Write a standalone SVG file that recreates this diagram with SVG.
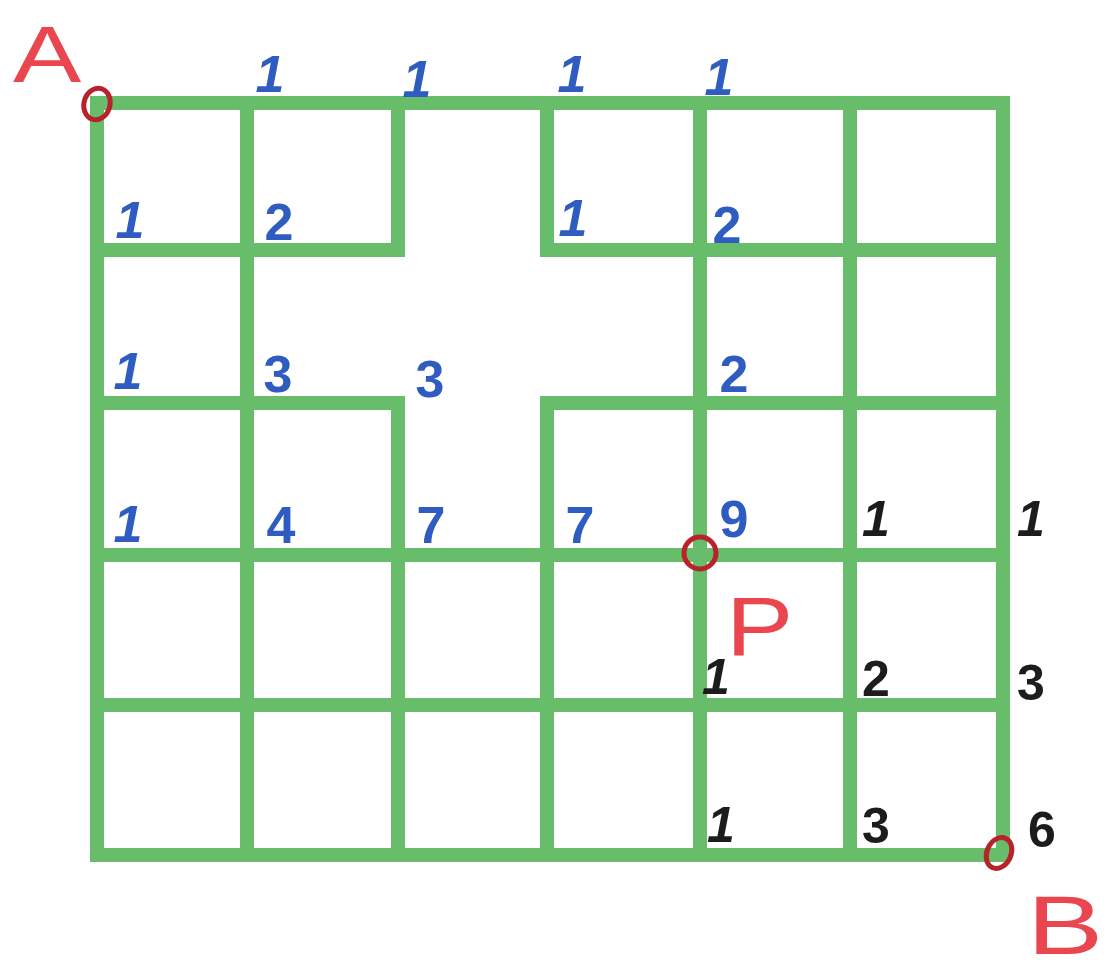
<svg xmlns="http://www.w3.org/2000/svg" width="1106" height="973" viewBox="0 0 1106 973">
<style>
.g{stroke:#68bd6b;stroke-width:14;stroke-linecap:square;fill:none}
.r{fill:none;stroke:#b8232b;stroke-width:5}
.big{font-family:"Liberation Sans",Arial,sans-serif;fill:#e9464f}
.b{font-family:"Liberation Sans",Arial,sans-serif;font-size:52px;font-weight:bold;fill:#2f5cc0;text-anchor:middle}
.k{font-family:"Liberation Sans",Arial,sans-serif;font-size:50px;font-weight:bold;fill:#1c1c1c;text-anchor:middle}
.one{font-style:italic}
</style>
<rect width="1106" height="973" fill="#ffffff"/>
<g id="grid">
<path class="g" d="M97 103H1003 M97 250H398 M547 250H1003 M97 403H398 M547 403H1003 M97 555H1003 M97 705H1003 M97 855H1003"/>
<path class="g" d="M97 103V855 M247 103V855 M398 103V250 M398 403V855 M547 103V250 M547 403V855 M700 103V855 M850 103V855 M1003 103V855"/>
</g>
<g id="point-A">
<ellipse class="r" cx="97" cy="104" rx="13" ry="16" transform="rotate(15 97 104)"/>
<text class="big" font-size="80" transform="translate(13 82) scale(1.28 1)">A</text>
</g>
<g id="point-P">
<circle class="r" cx="700" cy="553" r="16"/>
<text class="big" font-size="84" transform="translate(726 655) scale(1.2 1)">P</text>
</g>
<g id="point-B">
<ellipse class="r" cx="999" cy="853" rx="12" ry="16" transform="rotate(25 999 853)"/>
<text class="big" font-size="84" transform="translate(1027 954) scale(1.36 1)">B</text>
</g>
<g id="counts-blue">
<text class="b one" x="270" y="92">1</text>
<text class="b one" x="417" y="97">1</text>
<text class="b one" x="572" y="92">1</text>
<text class="b one" x="719" y="95">1</text>
<text class="b one" x="130" y="238">1</text>
<text class="b" x="279" y="240">2</text>
<text class="b one" x="573" y="236">1</text>
<text class="b" x="727" y="243">2</text>
<text class="b one" x="128" y="389">1</text>
<text class="b" x="278" y="392">3</text>
<text class="b" x="430" y="397">3</text>
<text class="b" x="734" y="392">2</text>
<text class="b one" x="128" y="542">1</text>
<text class="b" x="281" y="543">4</text>
<text class="b" x="431" y="543">7</text>
<text class="b" x="580" y="543">7</text>
<text class="b" x="734" y="537">9</text>
</g>
<g id="counts-black">
<text class="k one" x="876" y="536">1</text>
<text class="k one" x="1031" y="536">1</text>
<text class="k one" x="716" y="694" font-size="40">1</text>
<text class="k" x="876" y="696">2</text>
<text class="k" x="1031" y="700">3</text>
<text class="k one" x="721" y="842">1</text>
<text class="k" x="876" y="843">3</text>
<text class="k" x="1042" y="847">6</text>
</g>
</svg>
